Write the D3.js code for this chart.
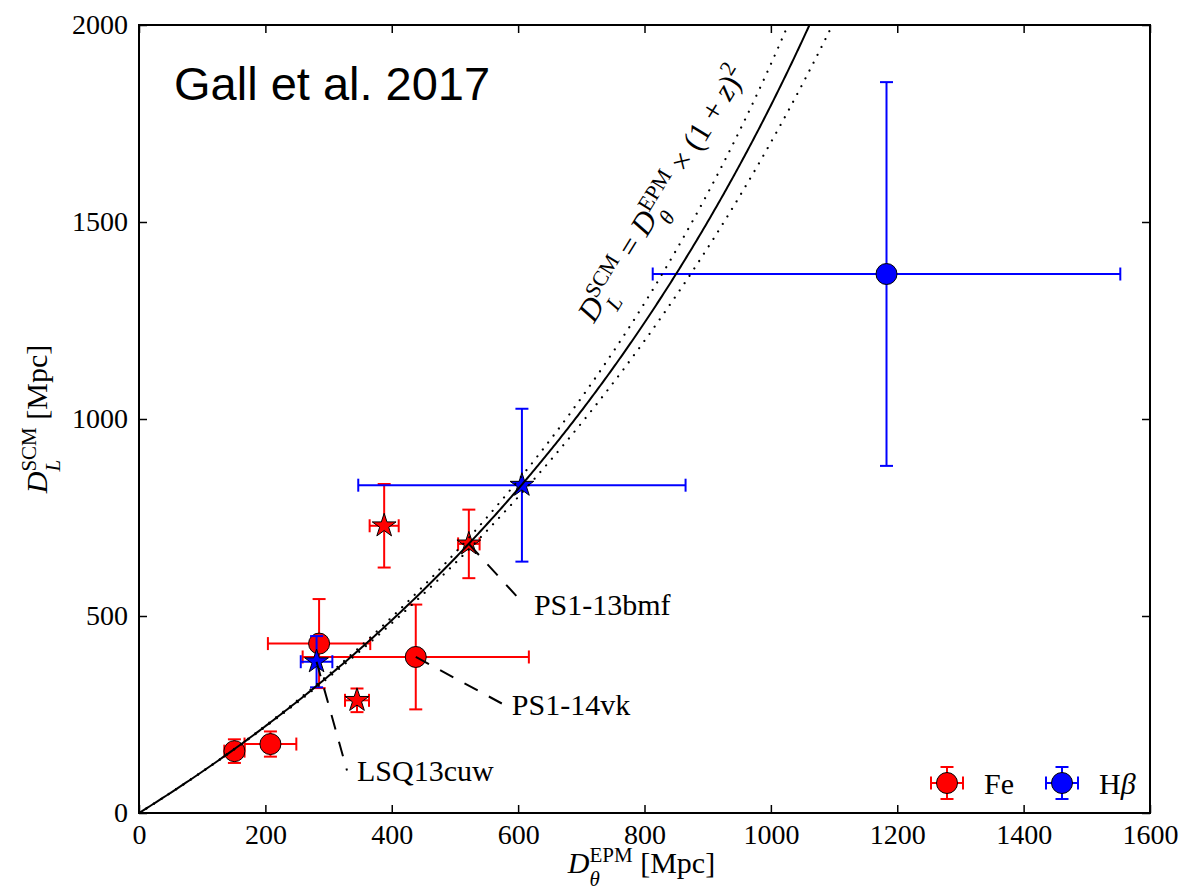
<!DOCTYPE html>
<html>
<head>
<meta charset="utf-8">
<script src="https://cdn.jsdelivr.net/npm/d3@7"></script>
<style>
  html, body { margin: 0; padding: 0; background: #fff; }
  svg { display: block; }
  .tick text { font-family: "Liberation Serif", "DejaVu Serif", serif; font-size: 28px; fill: #000; }
</style>
</head>
<body>
<svg id="chart" width="1184" height="892"></svg>
<script>
// ---- Data -------------------------------------------------------------
// Fe-velocity objects, circles
const feCircleX    = [151, 208, 285, 438];
const feCircleXErr = [16, 41, 81, 179];
const feCircleY    = [157, 175, 430, 396];
const feCircleYErr = [30, 32, 113, 133];

// Fe-velocity objects, stars
const feStarX    = [388, 522, 345];
const feStarXErr = [23, 17, 19];
const feStarY    = [729, 683, 286];
const feStarYErr = [106, 87, 30];

// H-beta objects, stars
const hbStarX    = [281, 606];
const hbStarXErr = [25, 259];
const hbStarY    = [384, 832];
const hbStarYErr = [65, 194];

// H-beta objects, circles
const hbCircleX    = [1183];
const hbCircleXErr = [370];
const hbCircleY    = [1368];
const hbCircleYErr = [487];

// Labelled objects: which point, and where the label's baseline starts
const annotNames  = ["LSQ13cuw", "PS1-14vk", "PS1-13bmf"];
const annotPointX = [281, 438, 522];
const annotPointY = [384, 396, 683];
const annotTextX  = [345, 590, 625];
const annotTextY  = [80, 250, 502];

// Axis ticks
const xTicks = [0, 200, 400, 600, 800, 1000, 1200, 1400, 1600];
const yTicks = [0, 500, 1000, 1500, 2000];

// Cosmology for the D_L = D_theta (1+z)^2 relation
const H0_CENTRAL = 70;
const H0_BOUNDS  = [65, 75];
const OMEGA_M    = 0.3;

// ---- Layout -----------------------------------------------------------
const svg = d3.select("#chart");
const L = 139, T = 25, R = 1150, B = 813;
const x = d3.scaleLinear().domain([0, 1600]).range([L, R]);
const y = d3.scaleLinear().domain([0, 2000]).range([B, T]);

const SERIF = '"Liberation Serif", "DejaVu Serif", serif';
const RED = "#ff0000", BLUE = "#0000ff";

svg.append("defs").append("clipPath").attr("id", "plotClip")
  .append("rect").attr("x", L).attr("y", T).attr("width", R - L).attr("height", B - T);

// ---- Axes -------------------------------------------------------------
const TICK = 8;
svg.append("g").attr("transform", `translate(0,${B})`)
  .call(d3.axisBottom(x).tickValues(xTicks).tickSize(-TICK).tickSizeOuter(0).tickPadding(11).tickFormat(d3.format("d")));
svg.append("g").attr("transform", `translate(0,${T})`)
  .call(d3.axisTop(x).tickValues(xTicks).tickSize(-TICK).tickSizeOuter(0).tickFormat(""));
svg.append("g").attr("transform", `translate(${L},0)`)
  .call(d3.axisLeft(y).tickValues(yTicks).tickSize(-TICK).tickSizeOuter(0).tickPadding(11).tickFormat(d3.format("d")));
svg.append("g").attr("transform", `translate(${R},0)`)
  .call(d3.axisRight(y).tickValues(yTicks).tickSize(-TICK).tickSizeOuter(0).tickFormat(""));
svg.selectAll(".domain").remove();
svg.selectAll(".tick line").attr("stroke", "#000").attr("stroke-width", 1.5);

// ---- Math-style text helper -----------------------------------------------
// parts: {t, it, s (scale), up (em shift)} or {stack: [[sup parts],[sub parts]]}
function mathText(parent, parts, size) {
  let cx = 0;
  function run(p, x0) {
    const fs = size * (p.s || 1);
    const el = parent.append("text")
      .attr("x", x0).attr("y", -(p.up || 0) * size)
      .style("font-family", SERIF).style("font-size", fs + "px")
      .style("font-style", p.it ? "italic" : "normal")
      .attr("fill", "#000")
      .attr("xml:space", "preserve")
      .text(p.t);
    return el.node().getComputedTextLength();
  }
  parts.forEach(p => {
    if (p.stack) {
      let wmax = 0;
      p.stack.forEach(seq => {
        let xx = cx;
        seq.forEach(q => { xx += run(q, xx); });
        wmax = Math.max(wmax, xx - cx);
      });
      cx += wmax;
    } else {
      cx += run(p, cx);
    }
  });
  return cx;
}
const SUP = 0.36, SUB = -0.44, SS = 0.7;

// ---- Data marks -------------------------------------------------------
function starPath(Ro) {
  const ri = Ro * 0.381966;
  const pts = [];
  for (let i = 0; i < 10; i++) {
    const a = -Math.PI / 2 + i * Math.PI / 5;
    const r = i % 2 === 0 ? Ro : ri;
    pts.push([r * Math.cos(a), r * Math.sin(a)]);
  }
  return "M" + pts.map(p => p[0].toFixed(2) + "," + p[1].toFixed(2)).join("L") + "Z";
}

const CAP = 6.5;
function errorSeries(xs, xe, ys, ye, color, shape) {
  const g = svg.append("g");
  xs.forEach((xv, i) => {
    const px = x(xv), py = y(ys[i]);
    const x0 = x(xv - xe[i]), x1 = x(xv + xe[i]);
    const y0 = y(ys[i] - ye[i]), y1 = y(ys[i] + ye[i]);
    const e = g.append("g").attr("stroke", color).attr("stroke-width", 2).attr("fill", "none");
    e.append("line").attr("x1", x0).attr("x2", x1).attr("y1", py).attr("y2", py);
    e.append("line").attr("x1", px).attr("x2", px).attr("y1", y0).attr("y2", y1);
    [x0, x1].forEach(cx => e.append("line").attr("x1", cx).attr("x2", cx).attr("y1", py - CAP).attr("y2", py + CAP));
    [y0, y1].forEach(cy => e.append("line").attr("y1", cy).attr("y2", cy).attr("x1", px - CAP).attr("x2", px + CAP));
  });
  xs.forEach((xv, i) => {
    const px = x(xv), py = y(ys[i]);
    if (shape === "circle") {
      g.append("circle").attr("cx", px).attr("cy", py).attr("r", 10.5)
        .attr("fill", color).attr("stroke", "#000").attr("stroke-width", 1);
    } else {
      g.append("path").attr("d", starPath(12.5)).attr("transform", `translate(${px},${py})`)
        .attr("fill", color).attr("stroke", "#000").attr("stroke-width", 1);
    }
  });
}
errorSeries(feCircleX, feCircleXErr, feCircleY, feCircleYErr, RED, "circle");
errorSeries(feStarX, feStarXErr, feStarY, feStarYErr, RED, "star");
errorSeries(hbStarX, hbStarXErr, hbStarY, hbStarYErr, BLUE, "star");
errorSeries(hbCircleX, hbCircleXErr, hbCircleY, hbCircleYErr, BLUE, "circle");

// ---- Cosmological relation curves ----------------------------------------
function relationCurve(H0) {
  const c = 299792.458, dz = 0.001;
  const E = z => Math.sqrt(OMEGA_M * Math.pow(1 + z, 3) + (1 - OMEGA_M));
  const pts = [[0, 0]];
  let dc = 0;
  for (let i = 1; i <= 700; i++) {
    const z0 = (i - 1) * dz, z1 = i * dz;
    dc += (c / H0) * 0.5 * (1 / E(z0) + 1 / E(z1)) * dz;
    const dl = dc * (1 + z1);
    pts.push([dl / Math.pow(1 + z1, 2), dl]);
  }
  return pts;
}
const line = d3.line().x(d => x(d[0])).y(d => y(d[1]));
const curves = svg.append("g").attr("clip-path", "url(#plotClip)").attr("fill", "none").attr("stroke", "#000");
H0_BOUNDS.forEach(h => {
  curves.append("path").attr("d", line(relationCurve(h)))
    .attr("stroke-width", 2.2).attr("stroke-linecap", "round").attr("stroke-dasharray", "0.01,8.8");
});
curves.append("path").attr("d", line(relationCurve(H0_CENTRAL))).attr("stroke-width", 2);

// ---- Annotations ---------------------------------------------------------
const ann = svg.append("g");
annotNames.forEach((name, i) => {
  const tx = x(annotTextX[i]), ty = y(annotTextY[i]);
  ann.append("line")
    .attr("x1", x(annotPointX[i])).attr("y1", y(annotPointY[i]))
    .attr("x2", tx - 10).attr("y2", ty - 11)
    .attr("stroke", "#000").attr("stroke-width", 2).attr("stroke-dasharray", "15,12.7");
  ann.append("text").attr("x", tx).attr("y", ty)
    .style("font-family", SERIF).style("font-size", "30px").attr("fill", "#000").text(name);
});

// ---- Title ---------------------------------------------------------------
svg.append("text").attr("x", 174).attr("y", 100)
  .style("font-family", '"Liberation Sans", Arial, sans-serif').style("font-size", "47px")
  .attr("fill", "#000").text("Gall et al. 2017");

// ---- Relation label (rotated) --------------------------------------------
const eq = svg.append("g").attr("transform", "translate(594,324) rotate(-58.5)");
mathText(eq, [
  { t: "D", it: true },
  { stack: [[{ t: "SCM", s: SS, up: SUP }], [{ t: "L", it: true, s: SS, up: SUB }]] },
  { t: " = " },
  { t: "D", it: true },
  { stack: [[{ t: "EPM", s: SS, up: SUP }], [{ t: "θ", it: true, s: SS, up: SUB }]] },
  { t: " × (1 + " },
  { t: "z", it: true },
  { t: ")" },
  { t: "2", s: SS, up: 0.4 }
], 31);

// ---- Axis labels ---------------------------------------------------------
const xl = svg.append("g");
const xw = mathText(xl, [
  { t: "D", it: true },
  { stack: [[{ t: "EPM", s: SS, up: SUP }], [{ t: "θ", it: true, s: SS, up: SUB }]] },
  { t: " [Mpc]" }
], 30);
xl.attr("transform", `translate(${(L + R) / 2 - xw / 2 - 3},873)`);

const yl = svg.append("g");
const yw = mathText(yl, [
  { t: "D", it: true },
  { stack: [[{ t: "SCM", s: SS, up: SUP }], [{ t: "L", it: true, s: SS, up: SUB }]] },
  { t: " [Mpc]" }
], 30);
yl.attr("transform", `translate(47,${(T + B) / 2}) rotate(-90) translate(${-yw / 2},0)`);

// ---- Legend --------------------------------------------------------------
const legendItems = [
  { label: [{ t: "Fe" }], color: RED },
  { label: [{ t: "H" }, { t: "β", it: true }], color: BLUE }
];
const lg = svg.append("g");
legendItems.forEach((it, i) => {
  const mx = 947 + i * 115, my = 783, h = 16;
  const e = lg.append("g").attr("stroke", it.color).attr("stroke-width", 2);
  e.append("line").attr("x1", mx - h).attr("x2", mx + h).attr("y1", my).attr("y2", my);
  e.append("line").attr("x1", mx).attr("x2", mx).attr("y1", my - h).attr("y2", my + h);
  [mx - h, mx + h].forEach(cx => e.append("line").attr("x1", cx).attr("x2", cx).attr("y1", my - CAP).attr("y2", my + CAP));
  [my - h, my + h].forEach(cy => e.append("line").attr("y1", cy).attr("y2", cy).attr("x1", mx - CAP).attr("x2", mx + CAP));
  lg.append("circle").attr("cx", mx).attr("cy", my).attr("r", 10.5)
    .attr("fill", it.color).attr("stroke", "#000").attr("stroke-width", 1);
  const tg = lg.append("g").attr("transform", `translate(${mx + 37},794)`);
  mathText(tg, it.label, 30);
});

// ---- Frame ---------------------------------------------------------------
svg.append("rect").attr("x", L).attr("y", T).attr("width", R - L).attr("height", B - T)
  .attr("fill", "none").attr("stroke", "#000").attr("stroke-width", 2);
</script>
</body>
</html>
